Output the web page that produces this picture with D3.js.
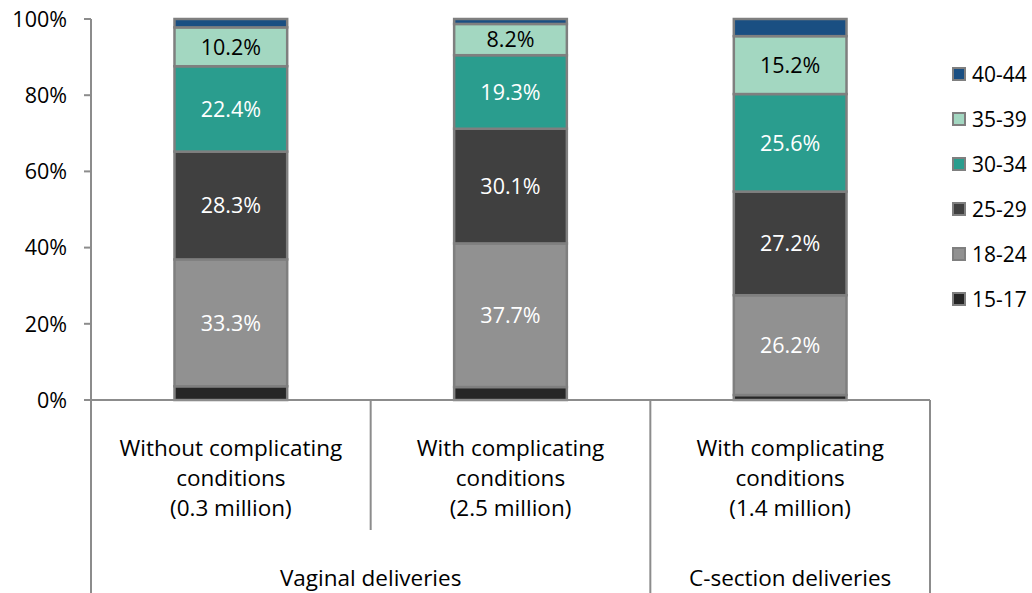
<!DOCTYPE html>
<html>
<head>
<meta charset="utf-8">
<script src="https://cdn.jsdelivr.net/npm/d3@7"></script>
<style>
  body { margin: 0; background: #fff; }
  svg { display: block; font-family: "Open Sans", "Noto Sans", sans-serif; }
</style>
</head>
<body>
<svg id="chart" width="1032" height="593"></svg>
<script>
// Data ----------------------------------------
const categories = ["cat1", "cat2", "cat3"];
const categoryLines = [
    ["Without complicating", "conditions", "(0.3 million)"],
    ["With complicating", "conditions", "(2.5 million)"],
    ["With complicating", "conditions", "(1.4 million)"]
];
const groups = ["Vaginal deliveries", "C-section deliveries"];
const groupSpans = [[0, 1], [2, 2]];  // category index range for each group
const ageGroups = ["15-17", "18-24", "25-29", "30-34", "35-39", "40-44"];
const values = {
    "15-17": [3.6, 3.4, 1.3],
    "18-24": [33.3, 37.7, 26.2],
    "25-29": [28.3, 30.1, 27.2],
    "30-34": [22.4, 19.3, 25.6],
    "35-39": [10.2, 8.2, 15.2],
    "40-44": [2.2, 1.3, 4.5]
};
const shownLabels = ["18-24", "25-29", "30-34", "35-39"];
const yTicks = [0, 20, 40, 60, 80, 100];

const colors = {
    "15-17": "#262626",
    "18-24": "#919191",
    "25-29": "#404040",
    "30-34": "#2a9d8e",
    "35-39": "#a3d7c1",
    "40-44": "#1a4f82"
};
const labelColors = {
    "18-24": "#ffffff",
    "25-29": "#ffffff",
    "30-34": "#ffffff",
    "35-39": "#000000"
};

// Layout ----------------------------------------
const svg = d3.select("#chart");
const plotLeft = 91, plotRight = 930, plotTop = 19, plotBottom = 400;
const axisColor = "#8c8c8c";
const numFont = "21.5px";
const textFont = "22.5px";

let x = d3.scaleBand().domain(categories).range([plotLeft, plotRight]).padding(0);
let y = d3.scaleLinear().domain([0, 100]).range([plotBottom, plotTop]);
const barWidth = x.bandwidth() * 0.403;

// Stack
const rows = categories.map((c, i) => {
    const r = { cat: c };
    ageGroups.forEach(a => r[a] = values[a][i]);
    return r;
});
const series = d3.stack().keys(ageGroups)(rows);

// Bars
const layers = svg.append("g").selectAll("g")
    .data(series)
    .enter().append("g")
    .attr("fill", d => colors[d.key]);

layers.selectAll("rect")
    .data(d => d.map(p => ({ key: d.key, p: p })))
    .enter().append("rect")
    .attr("x", d => x(d.p.data.cat) + (x.bandwidth() - barWidth) / 2)
    .attr("y", d => y(d.p[1]))
    .attr("width", barWidth)
    .attr("height", d => y(d.p[0]) - y(d.p[1]))
    .attr("stroke", "#7f7f7f")
    .attr("stroke-width", 2.5);

// Segment labels
layers.filter(d => shownLabels.includes(d.key))
    .selectAll("text")
    .data(d => d.map(p => ({ key: d.key, p: p })))
    .enter().append("text")
    .attr("x", d => x(d.p.data.cat) + x.bandwidth() / 2)
    .attr("y", d => y((d.p[0] + d.p[1]) / 2))
    .attr("dy", "0.36em")
    .attr("text-anchor", "middle")
    .attr("font-size", numFont)
    .attr("fill", d => labelColors[d.key])
    .text(d => (d.p[1] - d.p[0]).toFixed(1) + "%");

// Y axis
const yAxis = svg.append("g");
yAxis.append("line")
    .attr("x1", plotLeft).attr("x2", plotLeft)
    .attr("y1", plotTop).attr("y2", plotBottom)
    .attr("stroke", axisColor).attr("stroke-width", 2);
yAxis.selectAll("line.tick")
    .data(yTicks)
    .enter().append("line")
    .attr("class", "tick")
    .attr("x1", plotLeft - 7).attr("x2", plotLeft)
    .attr("y1", d => y(d)).attr("y2", d => y(d))
    .attr("stroke", axisColor).attr("stroke-width", 2);
yAxis.selectAll("text")
    .data(yTicks)
    .enter().append("text")
    .attr("x", plotLeft - 24)
    .attr("y", d => y(d))
    .attr("dy", "0.36em")
    .attr("text-anchor", "end")
    .attr("font-size", numFont)
    .attr("fill", "#000")
    .text(d => d + "%");

// X axis with category dividers
const xAxis = svg.append("g");
xAxis.append("line")
    .attr("x1", plotLeft).attr("x2", plotRight)
    .attr("y1", plotBottom).attr("y2", plotBottom)
    .attr("stroke", axisColor).attr("stroke-width", 2);

// Divider between categories inside a group is short, group edges run to the bottom
const groupEdges = new Set();
groupSpans.forEach(s => {
    groupEdges.add(x(categories[s[0]]));
    groupEdges.add(x(categories[s[1]]) + x.bandwidth());
});
const dividers = categories.map(c => x(c)).concat([plotRight]);
xAxis.selectAll("line.div")
    .data(dividers)
    .enter().append("line")
    .attr("class", "div")
    .attr("x1", d => d).attr("x2", d => d)
    .attr("y1", plotBottom)
    .attr("y2", d => groupEdges.has(d) ? 593 : 530)
    .attr("stroke", axisColor).attr("stroke-width", 2);

// Category labels
categories.forEach((c, i) => {
    const t = xAxis.append("text")
        .attr("x", x(c) + x.bandwidth() / 2)
        .attr("text-anchor", "middle")
        .attr("font-size", textFont)
        .attr("fill", "#000");
    categoryLines[i].forEach((line, j) => {
        t.append("tspan")
            .attr("x", x(c) + x.bandwidth() / 2)
            .attr("y", 456 + j * 30)
            .text(line);
    });
});

// Group labels
groups.forEach((g, i) => {
    const s = groupSpans[i];
    const cx = (x(categories[s[0]]) + x(categories[s[1]]) + x.bandwidth()) / 2;
    xAxis.append("text")
        .attr("x", cx)
        .attr("y", 586)
        .attr("text-anchor", "middle")
        .attr("font-size", textFont)
        .attr("fill", "#000")
        .text(g);
});

// Legend
const legend = svg.append("g");
const legendItems = ageGroups.slice().reverse();
legendItems.forEach((a, i) => {
    const ly = 74 + i * 45;
    legend.append("rect")
        .attr("x", 953).attr("y", ly - 6)
        .attr("width", 12).attr("height", 12)
        .attr("fill", colors[a])
        .attr("stroke", "#7f7f7f").attr("stroke-width", 2);
    legend.append("text")
        .attr("x", 972).attr("y", ly)
        .attr("dy", "0.36em")
        .attr("font-size", "21px")
        .attr("fill", "#000")
        .text(a);
});
</script>
</body>
</html>
